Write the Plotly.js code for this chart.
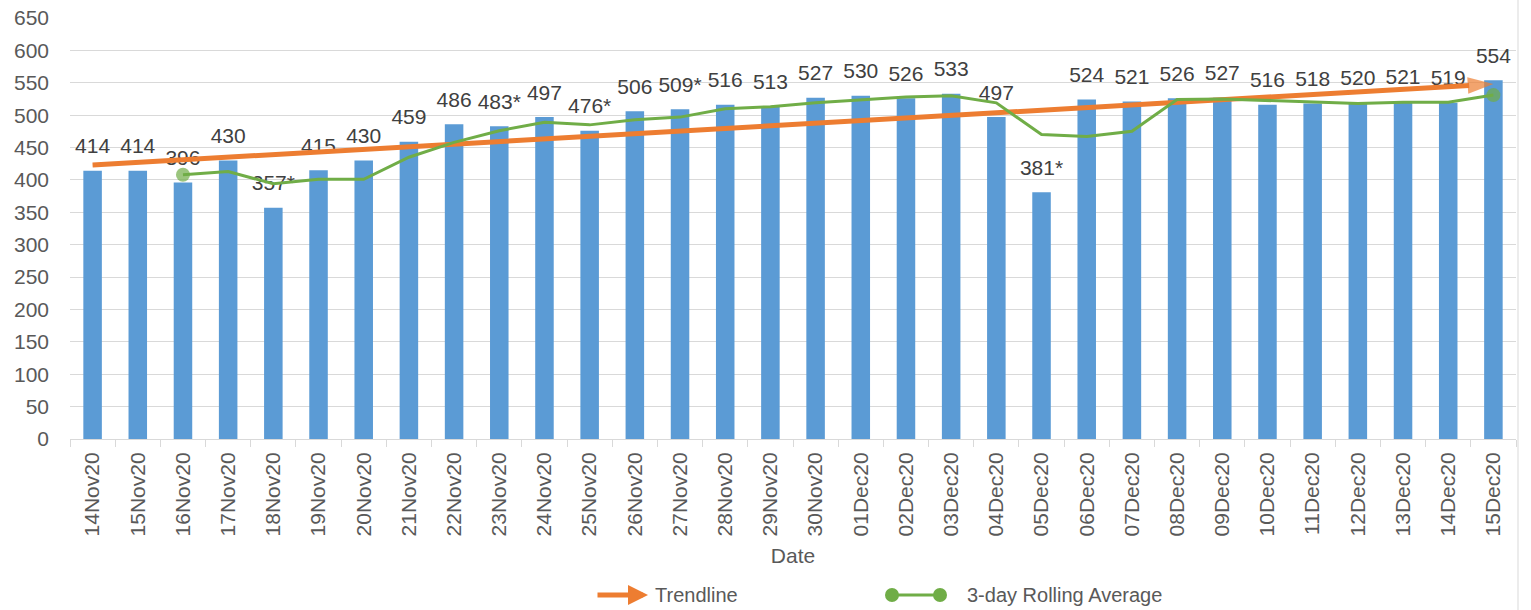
<!DOCTYPE html>
<html>
<head>
<meta charset="utf-8">
<script src="https://cdn.plot.ly/plotly-3.0.1.min.js"></script>
<style>
  html, body { margin: 0; padding: 0; background: #ffffff; }
  #chart { width: 1531px; height: 610px; }
</style>
</head>
<body>
<div id="chart"></div>
<script>
// ---- data ----
const dates = ["14Nov20","15Nov20","16Nov20","17Nov20","18Nov20","19Nov20","20Nov20","21Nov20",
  "22Nov20","23Nov20","24Nov20","25Nov20","26Nov20","27Nov20","28Nov20","29Nov20","30Nov20",
  "01Dec20","02Dec20","03Dec20","04Dec20","05Dec20","06Dec20","07Dec20","08Dec20","09Dec20",
  "10Dec20","11Dec20","12Dec20","13Dec20","14Dec20","15Dec20"];
const values = [414,414,396,430,357,415,430,459,486,483,497,476,506,509,516,513,527,
  530,526,533,497,381,524,521,526,527,516,518,520,521,519,554];
const labels = ["414","414","396","430","357*","415","430","459","486","483*","497","476*","506","509*","516","513","527",
  "530","526","533","497","381*","524","521","526","527","516","518","520","521","519","554"];
const rolling = [null,null,408,413,394,401,401,435,458,476,489,485,493,497,510,513,519,
  523,528,530,519,470,467,475,524,525,523,520,518,520,520,531];
const trendX = ["14Nov20","15Dec20"];
const trendY = [423,548];

// ---- style helpers ----
const FONT = "Liberation Sans, Arial, sans-serif";
const TXT = "#595959";
const GRID = "#D9D9D9";
const L = 70, T = 18, PW = 1446, PH = 421;
const px = x => (x - L) / PW;
const py = y => (T + PH - y) / PH;

const firstIdx = rolling.findIndex(v => v !== null);
const lastIdx = rolling.length - 1;
const rollSizes = rolling.map((v, i) => (i === firstIdx || i === lastIdx) ? 14 : 0);

const traces = [
  {
    type: "bar", x: dates, y: values, name: "Values",
    marker: { color: "#5B9BD5" }, hoverinfo: "x+y", showlegend: false
  },
  {
    type: "scatter", mode: "markers+text", x: dates, y: values, text: labels,
    textposition: "top center", cliponaxis: false,
    textfont: { family: FONT, size: 21, color: "#404040" },
    marker: { size: 18, color: "rgba(0,0,0,0)" }, hoverinfo: "skip", showlegend: false
  },
  {
    type: "scatter", mode: "lines+markers", x: trendX, y: trendY, name: "Trendline",
    line: { color: "#ED7D31", width: 5 },
    marker: { symbol: ["circle", "arrow"], size: [0, 27], angleref: "previous", color: "#ED7D31",
      line: { width: 0 } },
    cliponaxis: false, showlegend: false
  },
  {
    type: "scatter", mode: "lines+markers", x: dates, y: rolling, name: "3-day Rolling Average",
    line: { color: "#70AD47", width: 3 },
    marker: { size: rollSizes, color: "#70AD47", line: { width: 0 } },
    cliponaxis: false, showlegend: false
  }
];

const legY = py(595);
const layout = {
  width: 1531, height: 610,
  margin: { l: L, r: 1531 - L - PW, t: T, b: 610 - T - PH, pad: 0 },
  paper_bgcolor: "#ffffff", plot_bgcolor: "#ffffff",
  font: { family: FONT, color: TXT, size: 20 },
  bargap: 0.59,
  showlegend: false,
  xaxis: {
    type: "category", range: [-0.5, dates.length - 0.5], fixedrange: true,
    tickson: "boundaries", ticks: "outside", ticklen: 7, tickcolor: GRID,
    showline: true, linecolor: GRID, linewidth: 1, showgrid: false,
    tickangle: -90, tickfont: { family: FONT, size: 21, color: TXT },
    ticklabelstandoff: 4,
    title: { text: "Date", font: { family: FONT, size: 21, color: TXT }, standoff: 12 }
  },
  yaxis: {
    range: [0, 650], dtick: 50, tick0: 0, showgrid: true, gridcolor: GRID, gridwidth: 1,
    zeroline: false, showline: false, ticks: "",
    tickfont: { family: FONT, size: 21, color: TXT }, ticklabelstandoff: 20
  },
  shapes: [
    { type: "line", xref: "paper", yref: "paper", x0: px(1518), x1: px(1518), y0: py(610), y1: py(0),
      line: { color: GRID, width: 1 } },
    { type: "line", xref: "paper", yref: "paper", x0: px(889), x1: px(943), y0: legY, y1: legY,
      line: { color: "#70AD47", width: 3 } },
    { type: "circle", xref: "paper", yref: "paper", xsizemode: "pixel", ysizemode: "pixel",
      xanchor: px(892), yanchor: legY, x0: -7, x1: 7, y0: -7, y1: 7,
      fillcolor: "#70AD47", line: { width: 0 } },
    { type: "circle", xref: "paper", yref: "paper", xsizemode: "pixel", ysizemode: "pixel",
      xanchor: px(940), yanchor: legY, x0: -7, x1: 7, y0: -7, y1: 7,
      fillcolor: "#70AD47", line: { width: 0 } }
  ],
  annotations: [
    { xref: "paper", yref: "paper", x: px(648), y: legY, ax: -52, ay: 0, text: "",
      showarrow: true, arrowhead: 2, arrowsize: 0.8, arrowwidth: 5, arrowcolor: "#ED7D31" },
    { xref: "paper", yref: "paper", x: px(653), y: legY, xanchor: "left", yanchor: "middle",
      text: "Trendline", showarrow: false, font: { family: FONT, size: 20, color: TXT } },
    { xref: "paper", yref: "paper", x: px(965), y: legY, xanchor: "left", yanchor: "middle",
      text: "3-day Rolling Average", showarrow: false, font: { family: FONT, size: 20, color: TXT } }
  ]
};

Plotly.newPlot("chart", traces, layout, { displayModeBar: false, responsive: false, staticPlot: true });
</script>
</body>
</html>
